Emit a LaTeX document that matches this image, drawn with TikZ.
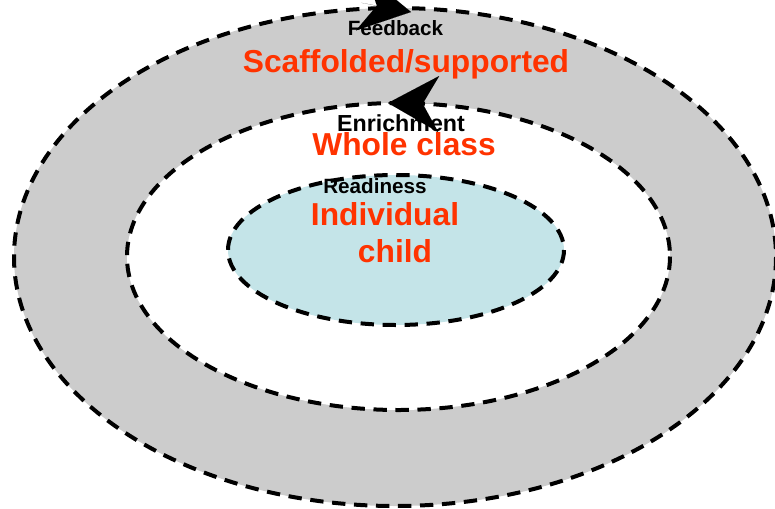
\documentclass[tikz,border=0pt]{standalone}
\usepackage{fontspec}
\setmainfont{Liberation Sans}
\usetikzlibrary{arrows.meta}
\definecolor{ringgray}{RGB}{204,204,204}
\definecolor{childcyan}{RGB}{196,228,232}
\definecolor{labelred}{RGB}{255,51,0}
\begin{document}
\begin{tikzpicture}[x=0.75pt, y=-0.75pt,
    ring/.style={draw=black, line width=3pt, dash pattern=on 10pt off 6.5pt},
    small/.style={anchor=base, font=\bfseries\fontsize{15.5}{18}\selectfont},
    big/.style={anchor=base, text=labelred, font=\bfseries\fontsize{23.8}{28}\selectfont},
    head/.style={-{Stealth[length=38pt, width=42pt, inset=12pt]}, line width=0.01pt}]
    \useasboundingbox (0,0) rectangle (775,508);

    \fill[ringgray] (395,257) ellipse [x radius=381, y radius=249];
    \draw[ring] (395,257) ellipse [x radius=381, y radius=249];
    \fill[white] (398.5,256.5) ellipse [x radius=271.5, y radius=153.5];
    \draw[ring] (398.5,256.5) ellipse [x radius=271.5, y radius=153.5];
    \fill[childcyan] (396,250) ellipse [x radius=168, y radius=75];
    \draw[ring] (396,250) ellipse [x radius=168, y radius=75];

    \node[small] (feed) at (395.5,35) {Feedback};
    \node[big] (scaf) at (406,72) {Scaffolded/supported};
    \node[small, font=\bfseries\fontsize{17.4}{20}\selectfont] (enri) at (401,131) {Enrichment};
    \node[big] (whole) at (404,155) {Whole class};
    \node[small] (read) at (375,193) {Readiness};
    \node[big] (indi) at (385,225) {Individual};
    \node[big] (chil) at (395,262) {child};

    % Arrows
    \coordinate (t1) at (361.3,2.8);
    \coordinate (t2) at (411,12);
    \coordinate (m1) at (438.7,104);
    \coordinate (m2) at (388,103);
    \draw[head] (t1) -- (t2);
    \draw[head] (m1) -- (m2);

\end{tikzpicture}
\end{document}
